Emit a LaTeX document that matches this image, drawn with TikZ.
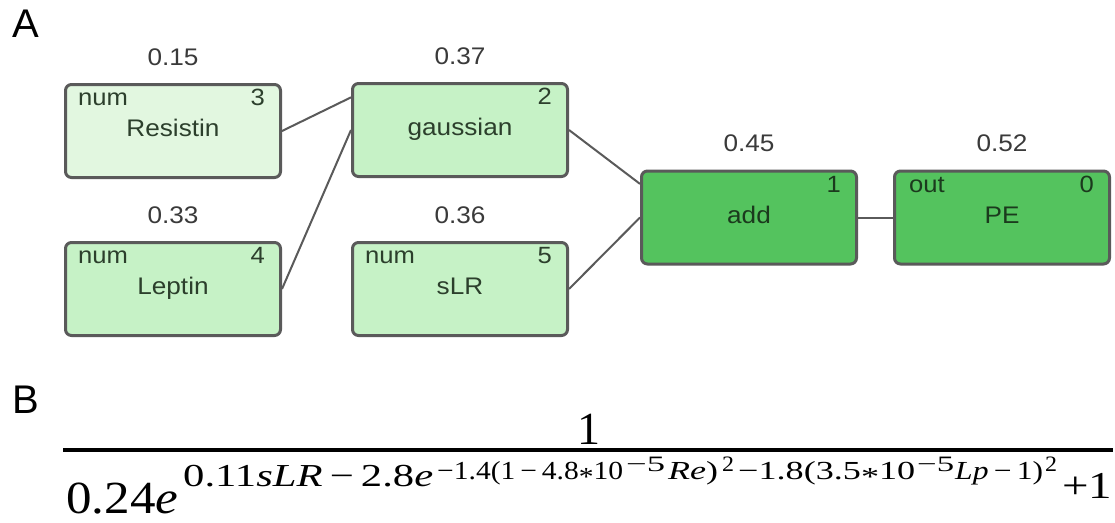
\documentclass[tikz,border=0pt]{standalone}
\usepackage{fontspec}
\usepackage{graphicx}
\setmainfont{Liberation Sans}
\newfontfamily\boxfont[FakeStretch=1.09]{Liberation Sans}
\newfontfamily\formfont{Liberation Serif}
\usetikzlibrary{calc}
\definecolor{edgegray}{HTML}{5A5A5A}
\definecolor{bordergray}{HTML}{5A5A5A}
\definecolor{palegreen}{HTML}{E2F7E0}
\definecolor{lightgreen}{HTML}{C6F2C6}
\definecolor{darkgreen}{HTML}{54C35E}
\definecolor{lighttext}{HTML}{2C3F2C}
\definecolor{darktext}{HTML}{1B3A1D}
\definecolor{valtext}{HTML}{3A3A3A}
\newcommand\seg[3]{\resizebox{#1}{\height}{\formfont\fontsize{#2}{#2}\selectfont #3}}
\newcommand\myast{\raisebox{-0.25em}{*}}
\tikzset{
  gbox/.style={rectangle, rounded corners=6pt, draw=bordergray, line width=3pt,
    minimum width=215pt, minimum height=93pt, inner sep=0pt},
  palebox/.style={gbox, fill=palegreen},
  lightbox/.style={gbox, fill=lightgreen},
  darkbox/.style={gbox, fill=darkgreen},
  mainlbl/.style={anchor=base, inner sep=0pt, font=\boxfont\fontsize{24}{26}\selectfont},
  cornerl/.style={anchor=base west, inner sep=0pt, font=\boxfont\fontsize{23.5}{25}\selectfont},
  cornerr/.style={anchor=base east, inner sep=0pt, font=\boxfont\fontsize{23.5}{25}\selectfont},
  vallbl/.style={anchor=base, inner sep=0pt, text=valtext, font=\boxfont\fontsize{24}{26}\selectfont},
  edge/.style={draw=edgegray, line width=2pt},
  panel/.style={anchor=base west, inner sep=0pt, font=\fontsize{40}{44}\selectfont},
  fseg/.style={anchor=base west, inner sep=0pt}
}
\begin{document}
\begin{tikzpicture}[x=1pt, y=-1pt]
\fill[white] (0,0) rectangle (1115,522);
\useasboundingbox (0,0) rectangle (1115,522);

\node[panel] (lblA) at (12,37) {A};
\node[panel] (lblB) at (12,413) {B};

% boxes
\node[palebox] (res) at (173,131) {};
\node[lightbox] (lep) at (173,289) {};
\node[lightbox] (gau) at (460,130) {};
\node[lightbox] (slr) at (460,289) {};
\node[darkbox] (add) at (749,217.5) {};
\node[darkbox] (pe) at (1002,217.5) {};

% edges
\draw[edge] (res.east) -- ($(gau.north west)!0.16!(gau.south west)$);
\draw[edge] (lep.east) -- (gau.west);
\draw[edge] (gau.east) -- ($(add.north west)!0.15!(add.south west)$);
\draw[edge] (slr.east) -- (add.west);
\draw[edge] (add.east) -- (pe.west);

% main labels
\node[mainlbl, text=lighttext] (resT) at ($(res.north)+(0,53.5)$) {Resistin};
\node[mainlbl, text=lighttext] (lepT) at ($(lep.north)+(0,53.5)$) {Leptin};
\node[mainlbl, text=lighttext] (gauT) at ($(gau.north)+(0,53.5)$) {gaussian};
\node[mainlbl, text=lighttext] (slrT) at ($(slr.north)+(0,53.5)$) {sLR};
\node[mainlbl, text=darktext] (addT) at ($(add.north)+(0,53.5)$) {add};
\node[mainlbl, text=darktext] (peT) at ($(pe.north)+(0,53.5)$) {PE};

% corner labels
\node[cornerl, text=lighttext] (resL) at ($(res.north west)+(14,22.5)$) {num};
\node[cornerr, text=lighttext] (resR) at ($(res.north east)+(-17,22.5)$) {3};
\node[cornerl, text=lighttext] (lepL) at ($(lep.north west)+(14,22.5)$) {num};
\node[cornerr, text=lighttext] (lepR) at ($(lep.north east)+(-17,22.5)$) {4};
\node[cornerr, text=lighttext] (gauR) at ($(gau.north east)+(-17,22.5)$) {2};
\node[cornerl, text=lighttext] (slrL) at ($(slr.north west)+(14,22.5)$) {num};
\node[cornerr, text=lighttext] (slrR) at ($(slr.north east)+(-17,22.5)$) {5};
\node[cornerr, text=darktext] (addR) at ($(add.north east)+(-17,22.5)$) {1};
\node[cornerl, text=darktext] (peL) at ($(pe.north west)+(16,22.5)$) {out};
\node[cornerr, text=darktext] (peR) at ($(pe.north east)+(-17,22.5)$) {0};

% values
\node[vallbl] (resV) at ($(res.north)+(0,-18)$) {0.15};
\node[vallbl] (lepV) at ($(lep.north)+(0,-18)$) {0.33};
\node[vallbl] (gauV) at ($(gau.north)+(0,-18)$) {0.37};
\node[vallbl] (slrV) at ($(slr.north)+(0,-18)$) {0.36};
\node[vallbl] (addV) at ($(add.north)+(0,-18)$) {0.45};
\node[vallbl] (peV) at ($(pe.north)+(0,-18)$) {0.52};

% formula
\node[anchor=base, inner sep=0pt, font=\formfont\fontsize{46}{50}\selectfont] (num1) at (589,444) {1};
\coordinate (barL) at (63,450);
\coordinate (barR) at (1113,450);
\draw[line width=3.5pt] (barL) -- (barR);
\node[fseg] (f0) at (66,513) {\seg{112pt}{46}{0.24\textit{e}}};
\node[fseg] (f1) at (183,486) {\seg{250pt}{32}{0.11\textit{sLR}\,−\,2.8\textit{e}}};
\node[fseg] (f2) at (437,479) {\seg{186pt}{26}{−1.4(1\,−\,4.8\myast10}};
\node[fseg] (f3) at (626,471) {\seg{39pt}{22}{−5}};
\node[fseg] (f4) at (668,479) {\seg{50pt}{26}{\textit{Re})}};
\node[fseg] (f5) at (722,471) {\seg{12pt}{22}{2}};
\node[fseg] (f6) at (738,479) {\seg{177pt}{26}{−1.8(3.5\myast10}};
\node[fseg] (f7) at (917,471) {\seg{37pt}{22}{−5}};
\node[fseg] (f8) at (955,479) {\seg{88pt}{26}{\textit{Lp}\,−\,1)}};
\node[fseg] (f9) at (1045,471) {\seg{12pt}{22}{2}};
\node[fseg] (f10) at (1062,498) {\seg{50pt}{38}{+1}};
\end{tikzpicture}
\end{document}
